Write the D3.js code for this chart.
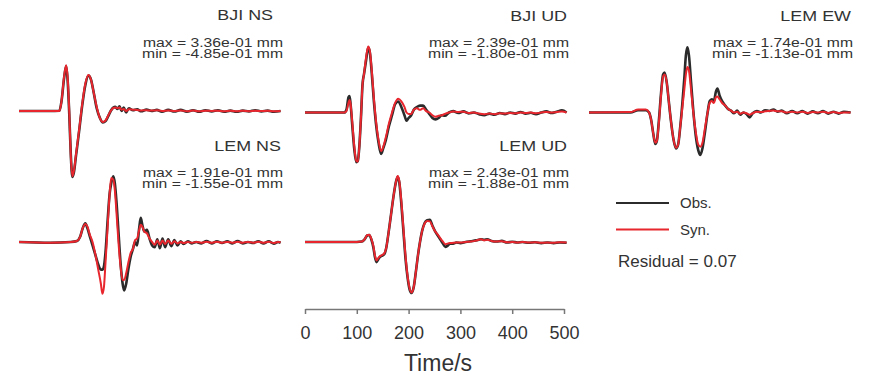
<!DOCTYPE html>
<html>
<head>
<meta charset="utf-8">
<script src="https://cdn.jsdelivr.net/npm/d3@7"></script>
<style>
  html, body { margin: 0; padding: 0; background: #fff; }
  svg { display: block; font-family: "Liberation Sans", Arial, sans-serif; }
</style>
</head>
<body>
<svg id="chart" width="869" height="376"></svg>
<script>
// ---- data (time in s, displacement in mm) ----
const bjiNsTime = [0, 60, 78, 82, 87, 91, 94, 97, 100, 103, 106, 110, 116, 122, 128, 134, 139, 144, 150, 156, 162, 167, 172, 177, 182, 186, 190, 194, 198, 202, 207, 212, 220, 228, 236, 246, 256, 266, 276, 288, 300, 312, 324, 336, 348, 360, 372, 384, 396, 408, 420, 432, 444, 456, 468, 480, 492, 505];
const bjiNsObs = [0, 0, 0.002, 0.07, 0.24, 0.33, 0.22, -0.02, -0.32, -0.485, -0.45, -0.33, -0.15, 0.04, 0.19, 0.26, 0.23, 0.14, 0.02, -0.05, -0.085, -0.075, -0.04, 0, 0.025, 0.03, 0.015, 0.035, 0, 0.025, -0.01, 0.02, 0.005, 0.012, -0.002, 0.01, 0, 0.008, -0.006, 0.008, -0.004, 0.008, -0.005, 0.006, -0.006, 0.006, -0.003, 0.005, -0.005, 0.003, -0.006, 0.003, -0.003, 0.005, -0.003, 0.003, -0.005, 0];
const bjiNsSyn = [0, 0, 0, 0.07, 0.25, 0.336, 0.24, 0, -0.33, -0.48, -0.44, -0.32, -0.14, 0.05, 0.2, 0.265, 0.23, 0.14, 0.03, -0.05, -0.08, -0.07, -0.035, 0, 0.022, 0.025, 0.02, 0.025, 0.01, 0.015, 0, 0.012, 0.01, 0.008, 0.004, 0.006, 0.003, 0.006, 0, 0.004, 0, 0.004, -0.002, 0.003, -0.002, 0.002, 0, 0.002, -0.002, 0.001, -0.002, 0.001, -0.001, 0.001, 0, 0.001, -0.002, 0];

const bjiUdTime = [0, 76, 80, 84, 86, 88, 91, 95, 99, 102, 105, 108, 111, 114, 118, 122, 125, 129, 133, 137, 142, 147, 151, 156, 162, 168, 174, 180, 186, 192, 196, 200, 205, 210, 216, 222, 228, 234, 240, 246, 252, 258, 264, 270, 278, 286, 296, 306, 316, 326, 336, 346, 356, 366, 376, 386, 396, 406, 416, 426, 436, 446, 456, 466, 476, 486, 496, 505];
const bjiUdObs = [0, 0, 0.01, 0.055, 0.06, 0.03, -0.04, -0.13, -0.18, -0.175, -0.12, -0.02, 0.1, 0.14, 0.19, 0.235, 0.22, 0.14, 0.04, -0.04, -0.11, -0.15, -0.13, -0.1, -0.05, -0.01, 0.03, 0.04, 0.02, -0.01, -0.03, -0.02, -0.01, 0.01, 0.02, 0.025, 0.025, 0.01, -0.005, -0.02, -0.025, -0.02, -0.01, -0.012, 0, 0.005, -0.002, 0.004, -0.003, 0, -0.006, -0.01, -0.004, -0.008, -0.002, -0.006, 0, -0.004, 0.002, -0.004, -0.001, -0.006, 0, 0.004, -0.002, 0.003, 0.008, 0];
const bjiUdSyn = [0, 0, 0.005, 0.035, 0.045, 0.03, -0.03, -0.12, -0.175, -0.178, -0.12, -0.02, 0.1, 0.14, 0.2, 0.239, 0.225, 0.15, 0.05, -0.03, -0.1, -0.14, -0.125, -0.09, -0.04, 0, 0.035, 0.05, 0.04, 0.02, 0, -0.005, -0.005, 0.01, 0.015, 0.01, 0.015, 0.005, 0, -0.01, -0.015, -0.012, -0.01, -0.005, 0, 0.004, 0.002, 0.003, -0.002, 0, -0.004, -0.006, -0.004, -0.006, -0.003, -0.004, -0.002, -0.003, 0, -0.002, 0, -0.003, 0, 0.002, 0, 0.002, 0.004, 0];

const lemEwTime = [0, 80, 95, 110, 116, 120, 124, 128, 131, 135, 139, 143, 146, 150, 154, 158, 163, 168, 172, 176, 180, 184, 187, 190, 193, 197, 201, 206, 211, 215, 219, 224, 229, 233, 237, 241, 245, 248, 252, 257, 262, 268, 274, 280, 286, 292, 298, 304, 310, 316, 324, 332, 340, 348, 356, 364, 372, 382, 392, 402, 412, 422, 432, 442, 452, 462, 472, 482, 492, 505];
const lemEwObs = [0, 0, 0.006, 0.006, 0, -0.02, -0.055, -0.083, -0.075, -0.02, 0.05, 0.1, 0.105, 0.08, 0.03, -0.02, -0.07, -0.095, -0.085, -0.04, 0.02, 0.09, 0.15, 0.172, 0.15, 0.08, 0.01, -0.06, -0.1, -0.112, -0.095, -0.05, 0, 0.03, 0.035, 0.03, 0.055, 0.063, 0.045, 0.03, 0.02, 0.01, 0.005, -0.002, 0.005, -0.006, 0, -0.004, -0.013, -0.002, 0.004, 0, 0.006, 0.004, 0.008, 0.002, 0.005, -0.002, 0.004, -0.002, 0.004, -0.003, 0.003, -0.002, 0.004, -0.003, 0.002, -0.003, 0.002, 0];
const lemEwSyn = [0, 0.001, 0.008, 0.008, 0, -0.02, -0.055, -0.08, -0.075, -0.025, 0.045, 0.095, 0.1, 0.08, 0.03, -0.02, -0.07, -0.093, -0.085, -0.04, 0.01, 0.06, 0.1, 0.12, 0.11, 0.06, 0.005, -0.05, -0.085, -0.09, -0.08, -0.04, 0, 0.025, 0.03, 0.025, 0.04, 0.042, 0.035, 0.025, 0.02, 0.01, 0.005, 0, 0.002, -0.003, 0, -0.002, -0.006, -0.002, 0.002, 0.001, 0.003, 0.004, 0.005, 0.003, 0.003, 0, 0.002, 0, 0.002, -0.001, 0.001, 0, 0.002, -0.001, 0.001, -0.001, 0, 0];

const lemNsTime = [0, 60, 100, 112, 118, 123, 128, 132, 137, 142, 148, 153, 158, 161, 164, 167, 171, 175, 178, 182, 185, 188, 192, 196, 200, 203, 207, 211, 216, 220, 224, 228, 232, 235, 238, 242, 247, 252, 257, 262, 267, 272, 277, 282, 288, 294, 300, 306, 312, 318, 326, 334, 342, 352, 362, 372, 382, 392, 402, 412, 422, 432, 442, 452, 462, 472, 482, 492, 500, 505];
const lemNsObs = [0, -0.002, 0, 0.003, 0.015, 0.04, 0.054, 0.04, 0.015, -0.01, -0.04, -0.065, -0.08, -0.08, -0.07, -0.03, 0.06, 0.14, 0.17, 0.19, 0.17, 0.12, 0.03, -0.06, -0.12, -0.14, -0.12, -0.08, -0.04, -0.02, 0, -0.01, 0.04, 0.07, 0.05, 0.03, 0.035, 0.01, -0.01, -0.015, 0.008, -0.018, 0.01, -0.015, 0.008, -0.012, 0.006, -0.01, 0.002, -0.006, 0.002, -0.004, 0, -0.004, 0.003, -0.004, 0.002, -0.003, 0.002, -0.004, 0.003, -0.004, 0, -0.003, 0.002, -0.004, 0.002, -0.005, 0, -0.002];
const lemNsSyn = [0, -0.002, 0, 0.003, 0.015, 0.04, 0.052, 0.045, 0.02, 0, -0.04, -0.08, -0.12, -0.15, -0.13, -0.06, 0.04, 0.14, 0.185, 0.18, 0.15, 0.09, 0, -0.07, -0.11, -0.11, -0.09, -0.06, -0.03, -0.02, 0.005, 0.01, 0.035, 0.05, 0.045, 0.03, 0.025, 0.01, 0, -0.008, 0.004, -0.008, 0.004, -0.006, 0.004, -0.005, 0.002, -0.004, 0, -0.003, 0, -0.002, 0, -0.002, 0.001, -0.002, 0.001, -0.002, 0, -0.002, 0.001, -0.002, 0, -0.002, 0.001, -0.002, 0.001, -0.003, 0, -0.001];

const lemUdTime = [0, 90, 110, 115, 120, 124, 128, 132, 135, 138, 141, 145, 149, 153, 157, 161, 166, 171, 176, 179, 182, 186, 190, 194, 198, 202, 206, 210, 214, 218, 222, 226, 231, 236, 241, 246, 251, 256, 261, 266, 271, 275, 280, 286, 292, 300, 310, 320, 330, 340, 346, 352, 360, 370, 380, 390, 400, 410, 420, 432, 444, 456, 468, 480, 492, 505];
const lemUdObs = [0, 0, 0.002, 0.01, 0.024, 0.026, 0.01, -0.02, -0.055, -0.074, -0.065, -0.055, -0.05, -0.045, -0.02, 0.03, 0.1, 0.17, 0.225, 0.24, 0.22, 0.14, 0.04, -0.06, -0.13, -0.175, -0.188, -0.165, -0.11, -0.05, 0, 0.04, 0.07, 0.08, 0.082, 0.06, 0.04, 0.025, 0.01, -0.005, -0.018, -0.014, -0.006, -0.006, -0.002, -0.004, 0, 0.003, 0.006, 0.01, 0.008, 0.01, 0.004, 0.002, 0.004, -0.002, 0.001, -0.002, 0, -0.003, -0.001, -0.004, -0.002, -0.004, -0.002, -0.003];
const lemUdSyn = [0, 0, 0.002, 0.01, 0.025, 0.027, 0.012, -0.015, -0.05, -0.068, -0.06, -0.052, -0.048, -0.042, -0.02, 0.03, 0.1, 0.17, 0.225, 0.243, 0.225, 0.15, 0.05, -0.05, -0.125, -0.17, -0.186, -0.165, -0.11, -0.05, 0, 0.04, 0.068, 0.077, 0.076, 0.058, 0.04, 0.028, 0.014, 0.002, -0.008, -0.006, -0.004, -0.003, -0.002, -0.002, 0, 0.002, 0.005, 0.01, 0.006, 0.008, 0.004, 0.002, 0.003, -0.001, 0, -0.002, 0, -0.002, -0.001, -0.003, -0.002, -0.003, -0.001, -0.002];

const stationNames = ['BJI NS', 'BJI UD', 'LEM EW', 'LEM NS', 'LEM UD'];
const maxLabels = ['3.36e-01', '2.39e-01', '1.74e-01', '1.91e-01', '2.43e-01'];
const minLabels = ['-4.85e-01', '-1.80e-01', '-1.13e-01', '-1.55e-01', '-1.88e-01'];
const timeTicks = [0, 100, 200, 300, 400, 500];
const legendLabels = ['Obs.', 'Syn.'];
const residual = 0.07;

// ---- layout ----
const obsColor = '#2b2b2b';
const synColor = '#e8262d';
const textColor = '#333';
const panelWidth = 259;   // 0..500 s
const halfHeight = 66;    // px for max |amplitude|
const panels = [
  { x0: 19,  base: 111,   nameY: 20,  infoY: 46.5, time: bjiNsTime, obs: bjiNsObs, syn: bjiNsSyn },
  { x0: 305, base: 112.5, nameY: 20.5, infoY: 46.5, time: bjiUdTime, obs: bjiUdObs, syn: bjiUdSyn },
  { x0: 589, base: 112.5, nameY: 20.5, infoY: 46.5, time: lemEwTime, obs: lemEwObs, syn: lemEwSyn },
  { x0: 19,  base: 242,   nameY: 151, infoY: 177, time: lemNsTime, obs: lemNsObs, syn: lemNsSyn },
  { x0: 305, base: 242,   nameY: 151, infoY: 177, time: lemUdTime, obs: lemUdObs, syn: lemUdSyn, axis: true },
];

const svg = d3.select('#chart');

panels.forEach((p, i) => {
  const maxAbs = Math.max(Math.abs(+maxLabels[i]), Math.abs(+minLabels[i]));
  const x = d3.scaleLinear().domain([0, 500]).range([0, panelWidth]);
  const y = d3.scaleLinear().domain([-maxAbs, maxAbs]).range([halfHeight, -halfHeight]);

  const g = svg.append('g').attr('transform', `translate(${p.x0},${p.base})`);

  const line = (vals) => d3.line()
    .x((d, k) => x(p.time[k]))
    .y((d) => y(d))
    .curve(d3.curveMonotoneX)(vals);

  g.append('path')
    .attr('d', line(p.obs))
    .attr('fill', 'none')
    .attr('stroke', obsColor)
    .attr('stroke-width', 2.6)
    .attr('stroke-linejoin', 'round');

  g.append('path')
    .attr('d', line(p.syn))
    .attr('fill', 'none')
    .attr('stroke', synColor)
    .attr('stroke-width', 2)
    .attr('stroke-linejoin', 'round');

  // labels (stretched horizontally like the original figure)
  const right = p.x0 + 264;
  const nameRight = i === 0 ? right - 10 : right - 2;
  svg.append('g')
    .attr('transform', `translate(${nameRight},${p.nameY}) scale(1.28,1)`)
    .append('text')
    .attr('text-anchor', 'end')
    .attr('font-size', 14)
    .attr('fill', textColor)
    .text(stationNames[i]);

  const info = svg.append('g')
    .attr('transform', `translate(${right},${p.infoY}) scale(1.31,1)`)
    .attr('font-size', 12)
    .attr('fill', textColor)
    .attr('text-anchor', 'end');
  info.append('text').attr('y', 0).text(`max = ${maxLabels[i]} mm`);
  info.append('text').attr('y', 11).text(`min = ${minLabels[i]} mm`);

  if (p.axis) {
    const ax = svg.append('g')
      .attr('transform', `translate(${p.x0},309)`)
      .call(d3.axisBottom(x).tickValues(timeTicks).tickSize(5).tickSizeOuter(0).tickPadding(12));
    ax.select('.domain').attr('stroke', '#777').attr('stroke-width', 1.5);
    ax.selectAll('.tick line').attr('stroke', '#777').attr('stroke-width', 1.5);
    ax.selectAll('.tick text')
      .attr('font-size', 18)
      .attr('fill', textColor)
      .attr('font-family', '"Liberation Sans", Arial, sans-serif');
    svg.append('text')
      .attr('x', p.x0 + 133)
      .attr('y', 371)
      .attr('text-anchor', 'middle')
      .attr('font-size', 23)
      .attr('fill', textColor)
      .text('Time/s');
  }
});

// ---- legend ----
const legend = svg.append('g');
[obsColor, synColor].forEach((c, k) => {
  const ly = 203 + k * 26.5;
  legend.append('line')
    .attr('x1', 616).attr('x2', 669)
    .attr('y1', ly).attr('y2', ly)
    .attr('stroke', c).attr('stroke-width', 2);
  legend.append('text')
    .attr('x', 680).attr('y', ly + 5.3)
    .attr('font-size', 15)
    .attr('fill', textColor)
    .text(legendLabels[k]);
});
legend.append('text')
  .attr('x', 618).attr('y', 267)
  .attr('font-size', 17)
  .attr('fill', textColor)
  .text(`Residual = ${residual.toFixed(2)}`);
</script>
</body>
</html>
